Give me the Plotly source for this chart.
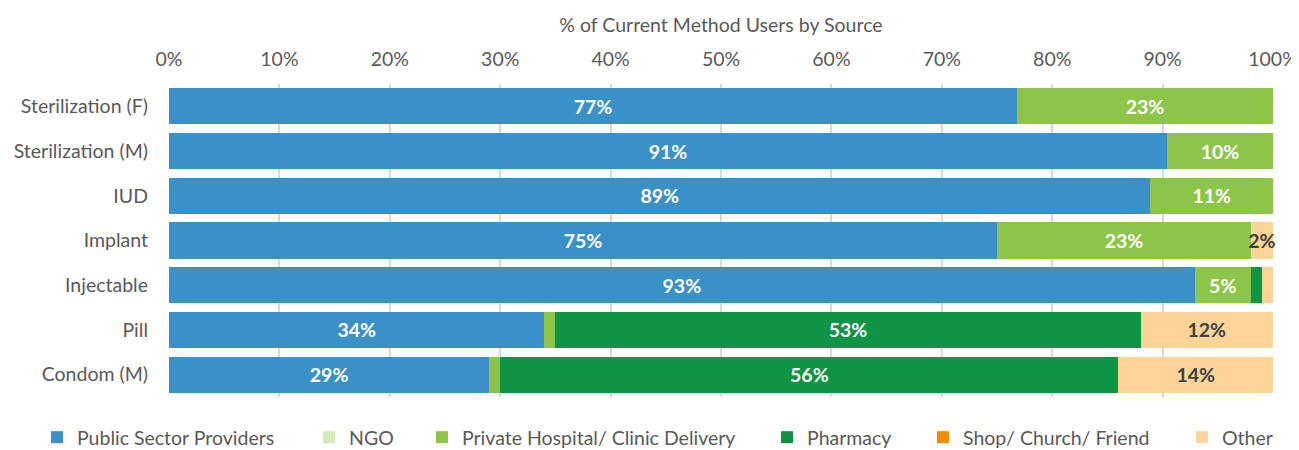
import plotly.graph_objects as go

categories = ["Sterilization (F)", "Sterilization (M)", "IUD", "Implant", "Injectable", "Pill", "Condom (M)"]

series_names = ["Public Sector Providers", "NGO", "Private Hospital/ Clinic Delivery",
                "Pharmacy", "Shop/ Church/ Friend", "Other"]

public_vals = [76.8, 90.4, 88.9, 75.0, 92.9, 34.0, 29.0]
ngo_vals = [0, 0, 0, 0, 0, 0, 0]
private_vals = [23.2, 9.6, 11.1, 23.0, 5.1, 1.0, 1.0]
pharmacy_vals = [0, 0, 0, 0, 1.0, 53.0, 56.0]
shop_vals = [0, 0, 0, 0, 0, 0, 0]
other_vals = [0, 0, 0, 2.0, 1.0, 12.0, 14.0]

public_text = ["77%", "91%", "89%", "75%", "93%", "34%", "29%"]
ngo_text = ["", "", "", "", "", "", ""]
private_text = ["23%", "10%", "11%", "23%", "5%", "", ""]
pharmacy_text = ["", "", "", "", "", "53%", "56%"]
shop_text = ["", "", "", "", "", "", ""]
other_text = ["", "", "", "2%", "", "12%", "14%"]

x_ticks = list(range(0, 101, 10))
x_tick_labels = [f"{t}%" for t in x_ticks]

colors = ["#3A91C7", "#D4EBB6", "#8DC548", "#0E9444", "#F28C00", "#FDD498"]
text_colors = ["white", "white", "white", "white", "white", "#404040"]

FONT = "Lato"
FS = 19.5

W, H = 1291, 442
ML, MR, MT, MB = 161, 26, 76, 53
plot_w = W - ML - MR
plot_h = H - MT - MB

# left pixel of each legend entry (figure coordinates)
legend_left_px = [29, 301, 414, 759, 915, 1174]
legend_ids = ["legend", "legend2", "legend3", "legend4", "legend5", "legend6"]

fig = go.Figure()
all_vals = [public_vals, ngo_vals, private_vals, pharmacy_vals, shop_vals, other_vals]
all_text = [public_text, ngo_text, private_text, pharmacy_text, shop_text, other_text]
for i, (name, vals, txt, col, tcol) in enumerate(zip(series_names, all_vals, all_text, colors, text_colors)):
    fig.add_trace(go.Bar(
        y=categories, x=vals, name=name, orientation="h",
        marker=dict(color=col, line=dict(width=0)),
        text=txt, textposition="inside", insidetextanchor="middle", textangle=0,
        textfont=dict(color=tcol, size=FS, family=FONT, weight="bold"),
        cliponaxis=False, showlegend=True,
        hoverinfo="x+y+name",
        legend=legend_ids[i],
    ))

legend_layout = {}
for lid, px in zip(legend_ids, legend_left_px):
    legend_layout[lid] = dict(
        orientation="h", x=(px - ML) / plot_w, xanchor="left", y=-21 / plot_h, yanchor="top",
        font=dict(size=FS, color="#595959", family=FONT), bgcolor="rgba(0,0,0,0)",
        visible=True,
    )

fig.update_layout(
    showlegend=True,
    barmode="stack",
    bargap=0.19,
    width=W, height=H,
    margin=dict(l=ML, r=MR, t=MT, b=MB, autoexpand=False),
    plot_bgcolor="white", paper_bgcolor="white",
    font=dict(family=FONT, size=FS, color="#595959"),
    uniformtext=dict(minsize=FS, mode="show"),
    xaxis=dict(
        side="top", range=[0, 100], tickvals=x_ticks, ticktext=x_tick_labels,
        showgrid=True, gridcolor="#D9D9D9", gridwidth=2, zeroline=False,
        title=dict(text="% of Current Method Users by Source", font=dict(size=FS, color="#595959"), standoff=9),
        tickfont=dict(size=FS, color="#595959"), ticks="", showline=False, automargin=False,
        ticklabelstandoff=13,
    ),
    yaxis=dict(
        autorange="reversed", showgrid=False, ticks="", ticklabelstandoff=20,
        tickfont=dict(size=FS, color="#595959"), automargin=False,
    ),
    **legend_layout,
)

fig.write_html("out.html")
